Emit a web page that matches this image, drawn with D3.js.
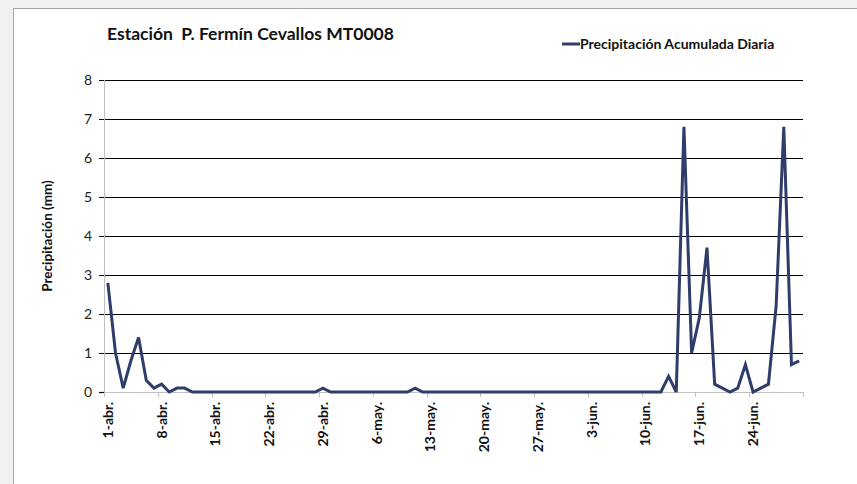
<!DOCTYPE html>
<html><head><meta charset="utf-8">
<script src="https://cdn.jsdelivr.net/npm/d3@7"></script>
<style>
html,body{margin:0;padding:0;background:#f0f0f0;}
svg{display:block;}
text{white-space:pre;}
</style></head>
<body>
<svg id="chart" width="857" height="484"></svg>
<script>
// ---- data ----
const title = "Estación  P. Fermín Cevallos MT0008";
const seriesName = "Precipitación Acumulada Diaria";
const yTitle = "Precipitación (mm)";
const monthNames = ["abr.", "may.", "jun."];
const monthDays = [30, 31, 30];
const aprValues = [2.8,1.0,0.1,0.8,1.4,0.3,0.1,0.2,0,0.1, 0.1,0,0,0,0,0,0,0,0,0, 0,0,0,0,0,0,0,0,0.1,0];
const mayValues = [0,0,0,0,0,0,0,0,0,0, 0.1,0,0,0,0,0,0,0,0,0, 0,0,0,0,0,0,0,0,0,0, 0];
const junValues = [0,0,0,0,0,0,0,0,0,0, 0,0,0.4,0,6.8,1.0,1.9,3.7,0.2,0.1, 0,0.1,0.7,0,0.1,0.2,2.2,6.8,0.7,0.8];
const yTicks = [0,1,2,3,4,5,6,7,8];
const labelEvery = 7;

const categories = [];
monthNames.forEach((m, k) => { for (let d = 1; d <= monthDays[k]; d++) categories.push(d + "-" + m); });
const values = aprValues.concat(mayValues, junValues);
const data = categories.map((c, i) => ({c, v: values[i]}));

// ---- layout ----
const svg = d3.select("#chart");
const font = "Lato, 'Open Sans', sans-serif";
const L = 104, R = 803, T = 80, B = 392;

// panel
svg.append("rect").attr("x", 13.5).attr("y", 8.5).attr("width", 900).attr("height", 600)
  .attr("fill", "#fff").attr("stroke", "#a6a6a6").attr("stroke-width", 1);

const x = d3.scaleBand().domain(categories).range([L, R]).padding(0);
const y = d3.scaleLinear().domain([0, 8]).range([B, T]);

// gridlines
svg.append("g").selectAll("line").data(yTicks.filter(t => t > 0)).join("line")
  .attr("x1", L - 5).attr("x2", R).attr("y1", d => Math.round(y(d)) + 0.5).attr("y2", d => Math.round(y(d)) + 0.5)
  .attr("stroke", "#000").attr("stroke-width", 1.2);
// y axis zero tick
svg.append("line").attr("x1", L - 5).attr("x2", L).attr("y1", B + 0.5).attr("y2", B + 0.5).attr("stroke", "#000").attr("stroke-width", 1.2);

// y axis line
svg.append("line").attr("x1", L + 0.5).attr("x2", L + 0.5).attr("y1", T).attr("y2", B)
  .attr("stroke", "#bfbfbf").attr("stroke-width", 1);

// y labels
svg.append("g").selectAll("text").data(yTicks).join("text")
  .attr("x", 92).attr("y", d => y(d)).attr("dy", "0.35em").attr("text-anchor", "end")
  .attr("font-family", font).attr("font-size", 14).attr("fill", "#222").text(d => d);

// x axis
const xAxis = d3.axisBottom(x)
  .tickValues(categories.filter((c, i) => i % labelEvery === 0))
  .tickSize(0).tickPadding(0);
const gx = svg.append("g").attr("transform", `translate(0,${B})`);
gx.append("line").attr("x1", L).attr("x2", R).attr("y1", 0.5).attr("y2", 0.5).attr("stroke", "#bfbfbf");
// tick marks at boundaries
const tickIdx = categories.map((c, i) => i).filter(i => i % labelEvery === 0);
gx.selectAll("line.tk").data(tickIdx.map(i => x(categories[i])).concat([R])).join("line")
  .attr("class", "tk").attr("x1", d => Math.round(d) + 0.5).attr("x2", d => Math.round(d) + 0.5)
  .attr("y1", 0).attr("y2", 5).attr("stroke", "#bfbfbf");
const ax = svg.append("g").attr("transform", `translate(0,${B})`).call(xAxis);
ax.select(".domain").remove();
ax.selectAll(".tick line").remove();
ax.selectAll(".tick text")
  .attr("transform", "rotate(-90)")
  .attr("x", -10).attr("y", 0).attr("dy", "0.35em")
  .attr("text-anchor", "end")
  .attr("font-family", font).attr("font-weight", "bold").attr("font-size", 14).attr("fill", "#111");

// line
const line = d3.line().x(d => x(d.c) + x.bandwidth() / 2).y(d => y(d.v));
svg.append("path").datum(data).attr("d", line)
  .attr("fill", "none").attr("stroke", "#2e3d69").attr("stroke-width", 3).attr("stroke-linejoin", "miter");

// title
svg.append("text").attr("x", 107).attr("y", 40).attr("font-family", font).attr("font-weight", "bold")
  .attr("font-size", 17.5).attr("fill", "#111").text(title);

// legend
svg.append("line").attr("x1", 562).attr("x2", 580).attr("y1", 44).attr("y2", 44)
  .attr("stroke", "#2e3d69").attr("stroke-width", 3);
svg.append("text").attr("x", 580).attr("y", 44).attr("dy", "0.35em").attr("font-family", font)
  .attr("font-weight", "bold").attr("font-size", 14).attr("fill", "#111").text(seriesName);

// y title
svg.append("text").attr("transform", `translate(52,${(T + B) / 2}) rotate(-90)`)
  .attr("text-anchor", "middle").attr("font-family", font).attr("font-weight", "bold")
  .attr("font-size", 13.5).attr("fill", "#111").text(yTitle);
</script>
</body></html>
